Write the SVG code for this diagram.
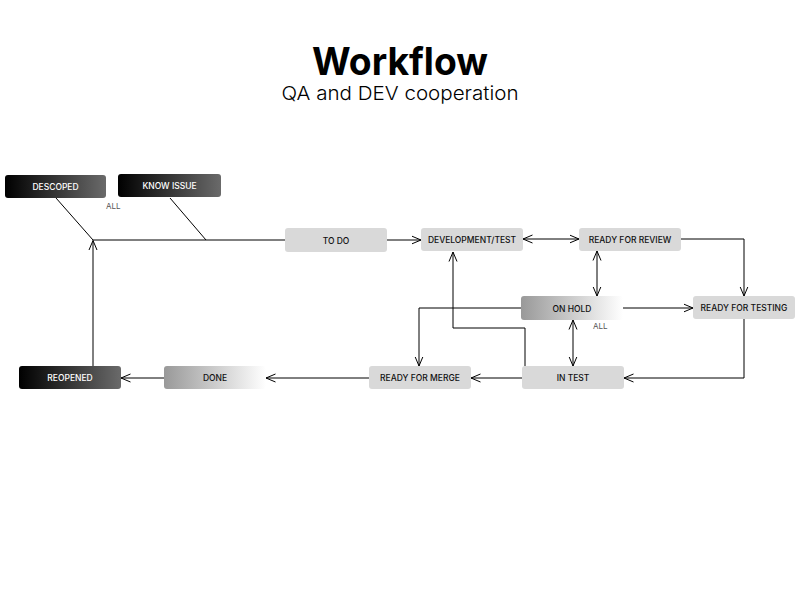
<svg xmlns="http://www.w3.org/2000/svg" width="800" height="600" viewBox="0 0 800 600">
<defs>
<linearGradient id="gDark" x1="0" y1="0" x2="1" y2="0"><stop offset="0" stop-color="#000"/><stop offset="1" stop-color="#6a6a6a"/></linearGradient>
<linearGradient id="gLight" x1="0" y1="0" x2="1" y2="0"><stop offset="0" stop-color="#999"/><stop offset="1" stop-color="#fff"/></linearGradient>
<marker id="arr" viewBox="0 0 10 10" refX="9.5" refY="5" markerWidth="10" markerHeight="10" markerUnits="userSpaceOnUse" orient="auto-start-reverse">
<path d="M0,1 L9.5,5 L0,9" fill="none" stroke="#000" stroke-width="1"/>
</marker>
<style>
.n{fill:#d9d9d9}
.t{font-family:"Inter","Liberation Sans",sans-serif;font-size:8.5px;font-weight:500;text-anchor:middle;fill:#111}
.tw{fill:#fff}
.c{fill:none;stroke:#000;stroke-width:1}
.lbl{font-family:"Inter","Liberation Sans",sans-serif;font-size:8px;font-weight:400;fill:#555}
</style>
</defs>
<rect width="800" height="600" fill="#fff"/>
<text x="400" y="75" font-family="Inter,'Liberation Sans',sans-serif" font-size="38" font-weight="700" text-anchor="middle" textLength="176" lengthAdjust="spacingAndGlyphs">Workflow</text>
<text x="400" y="100" font-family="Inter,'Liberation Sans',sans-serif" font-size="19" font-weight="300" text-anchor="middle" textLength="237" lengthAdjust="spacingAndGlyphs">QA and DEV cooperation</text>

<g id="connectors">
<path class="c" d="M56,198 L93,240 L285,240"/>
<path class="c" d="M170,198 L206,240"/>
<path class="c" d="M93,366 L93,240.5" marker-end="url(#arr)"/>
<path class="c" d="M387,240 L421,240" marker-end="url(#arr)"/>
<path class="c" d="M523,239 L579,239" marker-start="url(#arr)" marker-end="url(#arr)"/>
<path class="c" d="M681,239 L744,239 L744,296" marker-end="url(#arr)"/>
<path class="c" d="M597,251 L597,296" marker-start="url(#arr)" marker-end="url(#arr)"/>
<path class="c" d="M623,308 L693,308" marker-end="url(#arr)"/>
<path class="c" d="M744,319 L744,378 L624,378" marker-end="url(#arr)"/>
<path class="c" d="M573,320 L573,366" marker-start="url(#arr)" marker-end="url(#arr)"/>
<path class="c" d="M521,308 L419,308 L419,366" marker-end="url(#arr)"/>
<path class="c" d="M525,366 L525,328 L453,328 L453,252" marker-end="url(#arr)"/>
<path class="c" d="M522,378 L471,378" marker-end="url(#arr)"/>
<path class="c" d="M369,378 L266,378" marker-end="url(#arr)"/>
<path class="c" d="M164,378 L121,378" marker-end="url(#arr)"/>
<text class="lbl" x="106" y="209">ALL</text>
<text class="lbl" x="593" y="329">ALL</text>
</g>

<g id="descoped"><rect x="5" y="175" width="101" height="23" rx="3" fill="url(#gDark)"/><text class="t tw" x="55.5" y="190">DESCOPED</text></g>
<g id="know-issue"><rect x="118" y="174" width="103" height="23" rx="3" fill="url(#gDark)"/><text class="t tw" x="169.5" y="189">KNOW ISSUE</text></g>
<g id="todo"><rect class="n" x="285" y="228" width="102" height="24" rx="3"/><text class="t" x="336" y="243.5">TO DO</text></g>
<g id="dev"><rect class="n" x="421" y="228" width="102" height="23" rx="3"/><text class="t" x="472" y="243">DEVELOPMENT/TEST</text></g>
<g id="review"><rect class="n" x="579" y="228" width="102" height="23" rx="3"/><text class="t" x="630" y="243">READY FOR REVIEW</text></g>
<g id="onhold"><rect x="521" y="296" width="102" height="24" rx="3" fill="url(#gLight)"/><text class="t" x="572" y="311.5">ON HOLD</text></g>
<g id="testing"><rect class="n" x="693" y="296" width="102" height="23" rx="3"/><text class="t" x="744" y="311">READY FOR TESTING</text></g>
<g id="intest"><rect class="n" x="522" y="366" width="102" height="23" rx="3"/><text class="t" x="573" y="381">IN TEST</text></g>
<g id="merge"><rect class="n" x="369" y="366" width="102" height="23" rx="3"/><text class="t" x="420" y="381">READY FOR MERGE</text></g>
<g id="done"><rect x="164" y="366" width="102" height="23" rx="3" fill="url(#gLight)"/><text class="t" x="215" y="381">DONE</text></g>
<g id="reopened"><rect x="19" y="366" width="102" height="23" rx="3" fill="url(#gDark)"/><text class="t tw" x="70" y="381">REOPENED</text></g>
</svg>
